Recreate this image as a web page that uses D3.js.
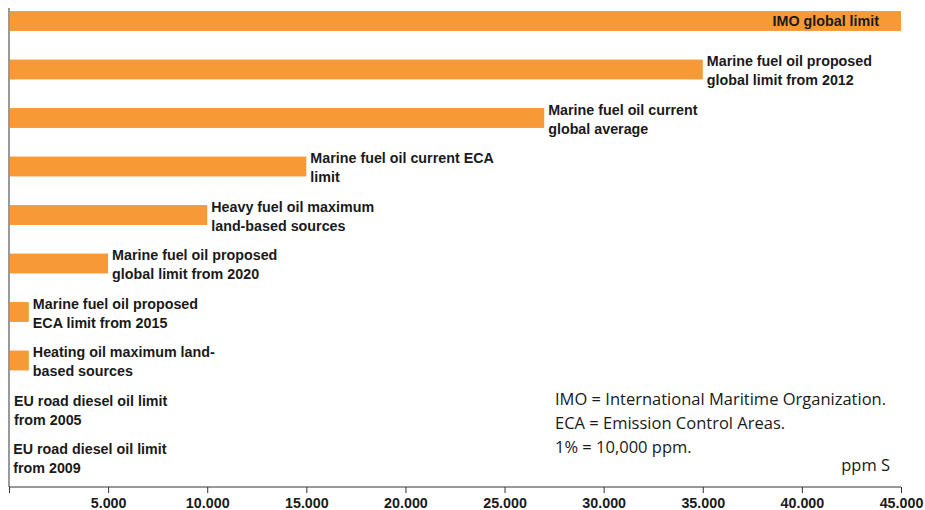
<!DOCTYPE html>
<html>
<head>
<meta charset="utf-8">
<script src="https://cdn.jsdelivr.net/npm/d3@7"></script>
<style>
  body { margin: 0; background: #fff; }
  svg { display: block; }
</style>
</head>
<body>
<div id="chart"></div>
<script>
var chartWidth = 925;
var chartHeight = 510;

// data, ppm S
var categories = [
    ["IMO global limit"],
    ["Marine fuel oil proposed", "global limit from 2012"],
    ["Marine fuel oil current", "global average"],
    ["Marine fuel oil current ECA", "limit"],
    ["Heavy fuel oil maximum", "land-based sources"],
    ["Marine fuel oil proposed", "global limit from 2020"],
    ["Marine fuel oil proposed", "ECA limit from 2015"],
    ["Heating oil maximum land-", "based sources"],
    ["EU road diesel oil limit", "from 2005"],
    ["EU road diesel oil limit", "from 2009"]
];
var sulphurValues = [45000, 35000, 27000, 15000, 10000, 5000, 1000, 1000, 50, 10];
var tickValues = [0, 5000, 10000, 15000, 20000, 25000, 30000, 35000, 40000, 45000];
var tickLabels = ["", "5.000", "10.000", "15.000", "20.000", "25.000", "30.000", "35.000", "40.000", "45.000"];
var notes = ["IMO = International Maritime Organization.", "ECA = Emission Control Areas.", "1% = 10,000 ppm."];
var unitLabel = "ppm S";

var svg = d3.select("#chart")
    .append("svg")
    .attr("width", chartWidth)
    .attr("height", chartHeight);

var plot = {left: 9, right: 901, top: 8, bottom: 487};

var xScale = d3.scaleLinear()
    .domain([0, 45000])
    .range([plot.left, plot.right]);

var yScale = d3.scaleBand()
    .domain(d3.range(categories.length))
    .range([-3.25, 481.75])
    .paddingInner(0.59)
    .paddingOuter(0.295);

// bars
svg.selectAll("rect.bar")
    .data(sulphurValues)
    .enter()
    .append("rect")
    .attr("class", "bar")
    .attr("x", xScale(0) + 1)
    .attr("y", (d, i) => yScale(i))
    .attr("width", d => Math.max(0, xScale(d) - xScale(0) - 1))
    .attr("height", yScale.bandwidth())
    .attr("fill", "#f89937");

// category labels
var labelFont = "'Liberation Sans', Arial, sans-serif";
var labelSize = "14.3px";
var labels = svg.selectAll("text.cat")
    .data(categories)
    .enter()
    .append("text")
    .attr("class", "cat")
    .attr("font-family", labelFont)
    .attr("font-weight", "bold")
    .attr("font-size", labelSize)
    .attr("fill", "#1a1a1a");

labels.each(function (lines, i) {
    var v = sulphurValues[i];
    var cy = yScale(i) + yScale.bandwidth() / 2;
    var t = d3.select(this);
    if (lines.length === 1) {
        // label sits inside the full-length bar
        t.attr("x", xScale(v) - 22)
            .attr("y", cy + 5)
            .attr("text-anchor", "end")
            .text(lines[0]);
    } else {
        var x = xScale(v) + 4;
        t.attr("x", x).attr("y", cy - 3.5);
        lines.forEach(function (line, j) {
            t.append("tspan")
                .attr("x", x)
                .attr("dy", j === 0 ? 0 : 19)
                .text(line);
        });
    }
});

// axes
var xAxis = d3.axisBottom(xScale)
    .tickValues(tickValues)
    .tickFormat((d, i) => tickLabels[i])
    .tickSize(6)
    .tickPadding(5);

var xAxisGroup = svg.append("g")
    .attr("transform", "translate(0," + plot.bottom + ")")
    .call(xAxis);
xAxisGroup.select(".domain").attr("stroke", "#333").attr("d", "M" + plot.left + ",0H" + plot.right);
xAxisGroup.selectAll(".tick line").attr("stroke", "#333");
xAxisGroup.selectAll(".tick text")
    .attr("font-family", labelFont)
    .attr("font-weight", "bold")
    .attr("font-size", labelSize)
    .attr("fill", "#1a1a1a");

svg.append("line")
    .attr("x1", plot.left)
    .attr("x2", plot.left)
    .attr("y1", plot.top)
    .attr("y2", plot.bottom)
    .attr("stroke", "#555")
    .attr("stroke-width", 1.2);

// notes
var noteFont = "'Open Sans', 'Noto Sans', sans-serif";
var noteSize = "16.5px";
svg.selectAll("text.note")
    .data(notes)
    .enter()
    .append("text")
    .attr("class", "note")
    .attr("x", 555)
    .attr("y", (d, i) => 405 + i * 24)
    .attr("font-family", noteFont)
    .attr("font-size", noteSize)
    .attr("fill", "#1a1a1a")
    .text(d => d);

svg.append("text")
    .attr("x", 890)
    .attr("y", 471)
    .attr("text-anchor", "end")
    .attr("font-family", noteFont)
    .attr("font-size", noteSize)
    .attr("fill", "#1a1a1a")
    .text(unitLabel);
</script>
</body>
</html>
